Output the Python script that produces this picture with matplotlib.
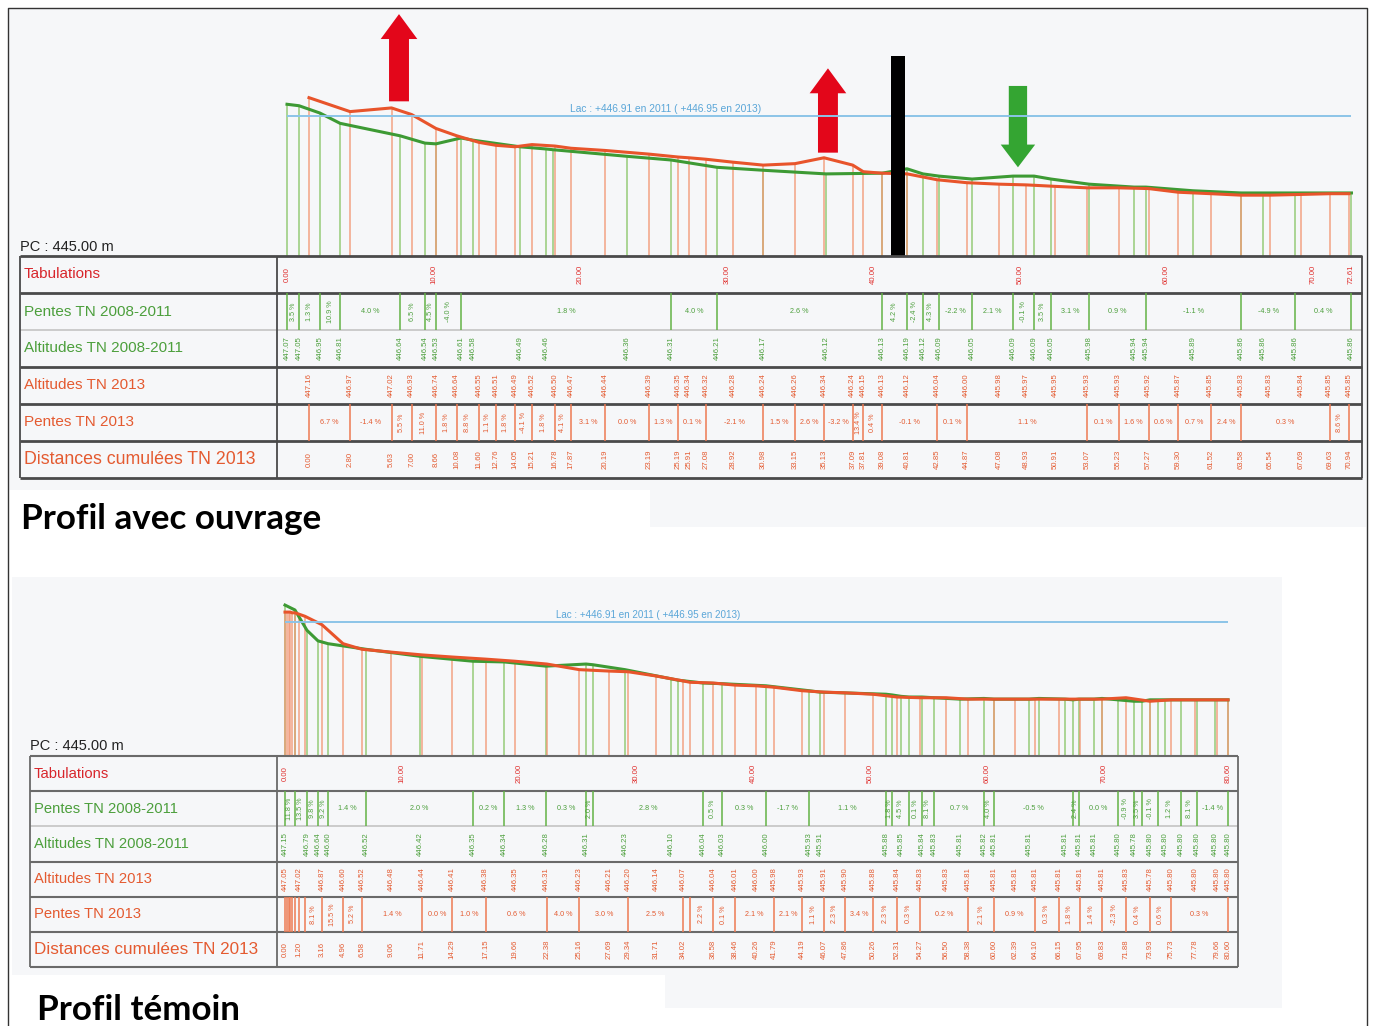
import matplotlib
matplotlib.use("Agg")
import matplotlib.pyplot as plt
from matplotlib.patches import FancyArrow, Rectangle

plt.rcParams['font.family'] = ['Liberation Sans', 'DejaVu Sans']

W, H = 1373, 1026

# ---------------- Profil avec ouvrage ----------------
top_tabs = [0.00, 10.00, 20.00, 30.00, 40.00, 50.00, 60.00, 70.00, 72.61]

top_green_dist = [0.00, 0.82, 2.25, 3.62, 7.71, 9.41, 10.16, 11.87, 12.69, 15.89,
                  17.67, 18.14, 23.19, 26.19, 29.33, 32.47, 36.77, 40.59, 42.29, 43.38,
                  44.47, 46.73, 49.52, 50.96, 52.11, 54.71, 57.78, 58.59, 61.80, 65.08,
                  66.58, 68.76, 72.61]
top_green_alt = [447.07, 447.05, 446.95, 446.81, 446.64, 446.54, 446.53, 446.61, 446.58, 446.49,
                 446.46, 446.45, 446.36, 446.31, 446.21, 446.17, 446.12, 446.13, 446.19, 446.12,
                 446.09, 446.05, 446.09, 446.09, 446.05, 445.98, 445.94, 445.94, 445.89, 445.86,
                 445.86, 445.86, 445.86]
top_green_breaks = [0.00, 0.82, 2.25, 3.62, 7.71, 9.41, 10.16, 11.87, 26.19, 29.33, 40.59,
                    42.29, 43.38, 44.47, 46.73, 49.52, 50.96, 52.11, 54.71, 58.59, 65.08,
                    68.76, 72.61]
top_green_slopes = ["3.5 %", "1.3 %", "10.9 %", "4.0 %", "6.5 %", "4.5 %", "-4.0 %", "1.8 %",
                    "4.0 %", "2.6 %", "4.2 %", "-2.4 %", "4.3 %", "-2.2 %", "2.1 %", "-0.1 %",
                    "3.5 %", "3.1 %", "0.9 %", "-1.1 %", "-4.9 %", "0.4 %"]

top_red_start = 1.50
top_red_dist = [0.00, 2.80, 5.63, 7.00, 8.66, 10.08, 11.60, 12.76, 14.05, 15.21,
                16.78, 17.87, 20.19, 23.19, 25.19, 25.91, 27.08, 28.92, 30.98, 33.15,
                35.13, 37.09, 37.81, 39.08, 40.81, 42.85, 44.87, 47.08, 48.93, 50.91,
                53.07, 55.23, 57.27, 59.30, 61.52, 63.58, 65.54, 67.69, 69.63, 70.94]
top_red_alt = [447.16, 446.97, 447.02, 446.93, 446.74, 446.64, 446.55, 446.51, 446.49, 446.52,
               446.50, 446.47, 446.44, 446.39, 446.35, 446.34, 446.32, 446.28, 446.24, 446.26,
               446.34, 446.24, 446.15, 446.13, 446.12, 446.04, 446.00, 445.98, 445.97, 445.95,
               445.93, 445.93, 445.92, 445.87, 445.85, 445.83, 445.83, 445.84, 445.85, 445.85]
top_red_breaks = [0.00, 2.80, 5.63, 7.00, 8.66, 10.08, 11.60, 12.76, 14.05, 15.21,
                  16.78, 17.87, 20.19, 23.19, 25.19, 27.08, 30.98, 33.15, 35.13, 37.09,
                  37.81, 39.08, 42.85, 44.87, 53.07, 55.23, 57.27, 59.30, 61.52, 63.58,
                  69.63, 70.94]
top_red_slopes = ["6.7 %", "-1.4 %", "5.5 %", "11.0 %", "1.8 %", "8.8 %", "1.1 %", "1.8 %",
                  "-4.1 %", "1.8 %", "4.1 %", "3.1 %", "0.0 %", "1.3 %", "0.1 %", "-2.1 %",
                  "1.5 %", "2.6 %", "-3.2 %", "13.4 %", "0.4 %", "-0.1 %", "0.1 %", "1.1 %",
                  "0.1 %", "1.6 %", "0.6 %", "0.7 %", "2.4 %", "0.3 %", "8.6 %"]

top_lake = 446.91
up_arrow_x = [7.64, 36.90]
up_arrow_from = [447.11, 446.41]
up_arrow_to = [448.30, 447.56]
down_arrow_x = [49.86]
down_arrow_from = [447.32]
down_arrow_to = [446.21]
wall_x = 41.68
wall_top = 447.73

# ---------------- Profil témoin ----------------
bot_tabs = [0.00, 10.00, 20.00, 30.00, 40.00, 50.00, 60.00, 70.00, 80.60]

bot_green_dist = [0.00, 0.85, 1.88, 2.82, 3.68, 6.92, 11.54, 16.07, 18.72, 22.31,
                  25.73, 26.32, 29.06, 32.99, 33.59, 35.73, 37.35, 41.11, 44.79, 45.73,
                  51.37, 51.88, 52.65, 53.33, 54.44, 55.47, 57.69, 59.74, 60.60, 63.59,
                  64.44, 66.67, 67.35, 67.86, 69.15, 69.83, 71.20, 72.56, 73.25, 73.93,
                  74.62, 75.21, 76.58, 77.95, 79.49, 80.60]
bot_green_alt = [447.15, 447.08, 446.79, 446.64, 446.60, 446.52, 446.42, 446.35, 446.34, 446.28,
                 446.31, 446.30, 446.23, 446.10, 446.08, 446.04, 446.03, 446.00, 445.93, 445.91,
                 445.88, 445.87, 445.85, 445.84, 445.84, 445.83, 445.81, 445.82, 445.81, 445.81,
                 445.82, 445.81, 445.80, 445.81, 445.81, 445.82, 445.80, 445.78, 445.78, 445.80,
                 445.80, 445.80, 445.80, 445.80, 445.80, 445.80]
bot_green_breaks = [0.00, 0.85, 1.88, 2.82, 3.68, 6.92, 16.07, 18.72, 22.31, 25.73,
                    26.32, 35.73, 37.35, 41.11, 44.79, 51.37, 51.88, 53.33, 54.44, 55.47,
                    59.74, 60.60, 67.35, 67.86, 71.20, 72.56, 73.25, 74.62, 76.58, 77.95,
                    80.60]
bot_green_slopes = ["11.8 %", "13.5 %", "9.8 %", "9.2 %", "1.4 %", "2.0 %", "0.2 %", "1.3 %",
                    "0.3 %", "2.0 %", "2.8 %", "0.5 %", "0.3 %", "-1.7 %", "1.1 %", "1.8 %",
                    "4.5 %", "0.1 %", "8.1 %", "0.7 %", "4.0 %", "-0.5 %", "2.4 %", "0.0 %",
                    "-0.9 %", "3.5 %", "-0.1 %", "1.2 %", "8.1 %", "-1.4 %"]

bot_red_start = 0.00
bot_red_dist = [0.00, 0.15, 0.30, 0.45, 0.60, 0.85, 1.20, 1.71, 3.16, 4.96,
                6.58, 9.06, 11.71, 14.29, 17.15, 19.66, 22.38, 25.16, 27.69, 29.34,
                31.71, 34.02, 34.62, 36.58, 38.46, 40.26, 41.79, 44.19, 46.07, 47.86,
                50.26, 52.31, 54.27, 56.50, 58.38, 60.60, 62.39, 64.10, 66.15, 67.95,
                69.83, 71.88, 73.93, 75.73, 77.78, 79.66, 80.60]
bot_red_alt = [447.05, 447.05, 447.05, 447.05, 447.04, 447.04, 447.02, 446.99, 446.87, 446.60,
               446.52, 446.48, 446.44, 446.41, 446.38, 446.35, 446.31, 446.23, 446.21, 446.20,
               446.14, 446.07, 446.05, 446.04, 446.01, 446.00, 445.98, 445.93, 445.91, 445.90,
               445.88, 445.84, 445.83, 445.83, 445.81, 445.81, 445.81, 445.81, 445.81, 445.81,
               445.81, 445.83, 445.78, 445.80, 445.80, 445.80, 445.80]
bot_red_breaks = [0.00, 0.15, 0.30, 0.45, 0.60, 0.85, 1.20, 1.71, 3.16, 4.96,
                  6.58, 11.71, 14.29, 17.15, 22.38, 25.16, 29.34, 34.02, 34.62, 36.58,
                  38.46, 41.79, 44.19, 46.07, 47.86, 50.26, 52.31, 54.27, 58.38, 60.60,
                  64.10, 66.15, 67.95, 69.83, 71.88, 73.93, 75.73, 80.60]
bot_red_slopes = ["", "", "", "", "", "", "", "8.1 %", "15.5 %", "5.2 %",
                  "1.4 %", "0.0 %", "1.0 %", "0.6 %", "4.0 %", "3.0 %", "2.5 %", "", "2.2 %",
                  "0.1 %", "2.1 %", "2.1 %", "1.1 %", "2.3 %", "3.4 %", "2.3 %", "0.3 %",
                  "0.2 %", "2.1 %", "0.9 %", "0.3 %", "1.8 %", "1.4 %", "-2.3 %", "0.4 %",
                  "0.6 %", "0.3 %"]
bot_lake = 446.91

PC = 445.00
lake_text = "Lac : +446.91 en 2011 ( +446.95 en 2013)"
row_names = ["Tabulations", "Pentes TN 2008-2011", "Altitudes TN 2008-2011",
             "Altitudes TN 2013", "Pentes TN 2013", "Distances cumulées TN 2013"]

GREEN = '#3d9a34'
GREEN_LT = '#8cc66b'
RED = '#e8542b'
RED_LT = '#f29470'
TXT_GREEN = '#4c9f3c'
TXT_RED = '#e45a30'


def px_box(x0, y0, x1, y1):
    return [x0 / W, 1 - y1 / H, (x1 - x0) / W, (y1 - y0) / H]


def draw_chart(fig, geo, tabs, g_dist, g_alt, g_breaks, g_slopes,
               r_start, r_dist, r_alt, r_breaks, r_slopes, lake):
    ppm = geo['ppm']
    org = geo['origin']
    x_lo = (geo['data_x0'] - org) / ppm
    x_hi = (geo['data_x1'] - org) / ppm
    y_hi = PC + (geo['base_y'] - geo['prof_top']) / geo['ppa']

    # profile
    ax = fig.add_axes(px_box(geo['data_x0'], geo['prof_top'], geo['data_x1'], geo['base_y']))
    ax.set_xlim(x_lo, x_hi)
    ax.set_ylim(PC, y_hi)
    ax.axis('off')
    r_x = [r_start + d for d in r_dist]
    ax.vlines(g_dist, PC, g_alt, color=GREEN_LT, lw=1.1, alpha=0.9)
    ax.vlines(r_x, PC, r_alt, color=RED_LT, lw=1.1, alpha=0.85)
    ax.plot(g_dist, g_alt, color=GREEN, lw=2.2)
    ax.plot(r_x, r_alt, color=RED, lw=2.2)
    ax.hlines(lake, tabs[0], tabs[-1], color='#8cc4e8', lw=1.4)
    ax.text(geo['lake_label_x'], lake + 0.03, lake_text, color='#5aa6d8',
            fontsize=geo['lake_fs'], ha='center', va='bottom')

    # table
    tab = fig.add_axes(px_box(geo['label_x0'], geo['base_y'], geo['data_x1'], geo['table_y1']))
    xl = (geo['label_x0'] - org) / ppm
    xd = x_lo
    tab.set_xlim(xl, x_hi)
    tab.set_ylim(6, 0)
    tab.axis('off')
    for i in range(7):
        light = (i == 2)
        tab.hlines(i, xl, x_hi, color='#c4c4c4' if light else geo['line_col'],
                   lw=1.2 if light else geo['line_w'], clip_on=False)
    tab.vlines([xl, xd, x_hi], 0, 6, color=geo['line_col'], lw=1.3, clip_on=False)

    name_cols = ['#d8262c', TXT_GREEN, TXT_GREEN, TXT_RED, TXT_RED, TXT_RED]
    for i, name in enumerate(row_names):
        tab.text(xl + 4 / ppm, i + 0.5, name, color=name_cols[i],
                 fontsize=geo['big_fs'] if i == 5 else geo['name_fs'],
                 va='center', ha='left')

    small = 5.6
    for t in tabs:
        tab.text(t, 0.5, f"{t:.2f}", rotation=90, fontsize=small, color='#e0302e',
                 ha='center', va='center')

    def slope_row(row, breaks, labels, offset, lcol, tcol):
        xs = [offset + b for b in breaks]
        tab.vlines(xs, row, row + 1, color=lcol, lw=1.1)
        for a, b, s in zip(xs[:-1], xs[1:], labels):
            if not s:
                continue
            wpx = (b - a) * ppm
            rot = 90 if wpx < 27 else 0
            tab.text((a + b) / 2, row + 0.5, s, rotation=rot, fontsize=small - 0.4,
                     color=tcol, ha='center', va='center')

    def value_row(row, xs, vals, tcol):
        last = None
        for x, v in zip(xs, vals):
            if last is not None and (x - last) * ppm < 10:
                continue
            last = x
            tab.text(x, row + 0.5, f"{v:.2f}", rotation=90, fontsize=small,
                     color=tcol, ha='center', va='center')

    slope_row(1, g_breaks, g_slopes, 0.0, '#63b245', TXT_GREEN)
    value_row(2, g_dist, g_alt, TXT_GREEN)
    value_row(3, r_x, r_alt, TXT_RED)
    slope_row(4, r_breaks, r_slopes, r_start, '#ee7a52', TXT_RED)
    value_row(5, r_x, r_dist, TXT_RED)
    return ax


fig = plt.figure(figsize=(W / 100, H / 100), dpi=100, facecolor='white')

# page background, frame and titles
bg = fig.add_axes([0, 0, 1, 1], zorder=-10)
bg.set_xlim(0, W)
bg.set_ylim(H, 0)
bg.axis('off')
for (x0, y0, x1, y1) in [(8, 8, 1366, 490), (650, 490, 1366, 527),
                         (12, 577, 1282, 975), (665, 975, 1282, 1008)]:
    bg.add_patch(Rectangle((x0, y0), x1 - x0, y1 - y0, color='#f6f7f9', lw=0))
bg.plot([8, 8, 1367, 1367], [H, 8, 8, H], color='#333333', lw=1)
bg.text(21, 519, "Profil avec ouvrage", fontsize=25.2, fontweight='bold',
        family=['Lato', 'DejaVu Sans'], va='center', ha='left')
bg.text(37, 1010, "Profil témoin", fontsize=25.2, fontweight='bold',
        family=['Lato', 'DejaVu Sans'], va='center', ha='left')
bg.text(20, 247, "PC : 445.00 m", fontsize=10.5, va='center', ha='left', color='#222222')
bg.text(30, 746, "PC : 445.00 m", fontsize=10.5, va='center', ha='left', color='#222222')

geo_top = dict(label_x0=20, data_x0=277, data_x1=1362, prof_top=12, base_y=256,
               table_y1=478, origin=287, ppm=14.66, ppa=73.3, lake_label_x=25.8,
               line_col='#4a4a4a', line_w=2.0, lake_fs=7.4, name_fs=11, big_fs=12.8)
geo_bot = dict(label_x0=30, data_x0=277, data_x1=1238, prof_top=578, base_y=756,
               table_y1=967, origin=285, ppm=11.7, ppa=70.2, lake_label_x=31.0,
               line_col='#6a6a6a', line_w=1.5, lake_fs=7.1, name_fs=10.6, big_fs=12.3)

ax_top = draw_chart(fig, geo_top, top_tabs, top_green_dist, top_green_alt,
                    top_green_breaks, top_green_slopes, top_red_start, top_red_dist,
                    top_red_alt, top_red_breaks, top_red_slopes, top_lake)
draw_chart(fig, geo_bot, bot_tabs, bot_green_dist, bot_green_alt,
           bot_green_breaks, bot_green_slopes, bot_red_start, bot_red_dist,
           bot_red_alt, bot_red_breaks, bot_red_slopes, bot_lake)

# annotations on the top profile
for x, y0, y1 in zip(up_arrow_x, up_arrow_from, up_arrow_to):
    ax_top.add_patch(FancyArrow(x, y0, 0, y1 - y0, width=1.36, head_width=2.5,
                                head_length=0.34, length_includes_head=True,
                                color='#e3061a', lw=0, clip_on=False))
for x, y0, y1 in zip(down_arrow_x, down_arrow_from, down_arrow_to):
    ax_top.add_patch(FancyArrow(x, y0, 0, y1 - y0, width=1.25, head_width=2.35,
                                head_length=0.31, length_includes_head=True,
                                color='#34a532', lw=0, clip_on=False))
ax_top.bar(wall_x, wall_top - PC, bottom=PC, width=0.95, color='black', zorder=5)

fig.savefig('out.png', dpi=100, facecolor='white')
